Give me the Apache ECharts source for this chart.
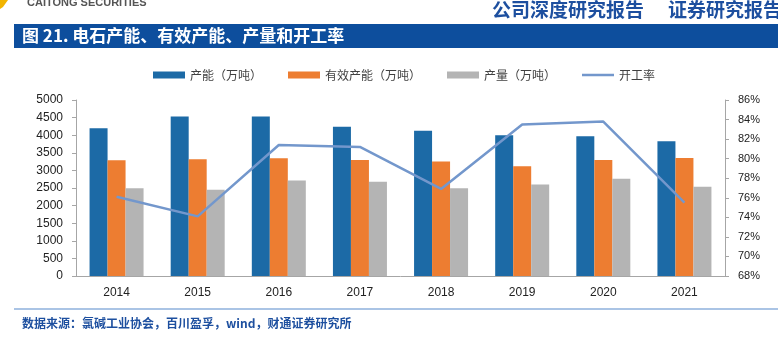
<!DOCTYPE html>
<html>
<head>
<meta charset="utf-8">
<script src="https://cdn.jsdelivr.net/npm/echarts@6/dist/echarts.min.js"></script>
<style>
  html, body { margin: 0; padding: 0; background: #fff; }
  #chart { width: 778px; height: 347px; }
</style>
</head>
<body>
<div id="chart"></div>
<script>
// Calcium carbide: capacity, effective capacity, output (10k t) and utilisation rate (%)
const years = ['2014', '2015', '2016', '2017', '2018', '2019', '2020', '2021'];
const capacity = [4200, 4530, 4530, 4240, 4125, 4000, 3970, 3830];
const effectiveCapacity = [3290, 3315, 3345, 3295, 3250, 3115, 3295, 3350];
const output = [2495, 2450, 2715, 2675, 2495, 2600, 2760, 2535];
const utilisation = [76.1, 74.1, 81.4, 81.2, 76.9, 83.5, 83.8, 75.5];

const seriesNames = ['产能（万吨）', '有效产能（万吨）', '产量（万吨）', '开工率'];
const colors = ['#1c6aa6', '#ed7d31', '#b4b4b4', '#7397cc'];

const chart = echarts.init(document.getElementById('chart'), null, { renderer: 'canvas' });

const cjk = '"Noto Sans CJK SC", "Noto Sans", sans-serif';
const latin = '"Liberation Sans", Arial, sans-serif';
const brandBlue = '#1d4f9f';

const barSeries = (name, data, color) => ({
  name: name,
  type: 'bar',
  data: data,
  barWidth: 18,
  barGap: '0%',
  itemStyle: { color: color },
  z: 2
});

chart.setOption({
  animation: false,
  color: colors,
  textStyle: { fontFamily: latin },
  legend: {
    left: 148,
    top: 64,
    itemWidth: 32,
    itemHeight: 7,
    itemGap: 26,
    textStyle: { fontFamily: cjk, fontSize: 12, color: '#404040' },
    data: [
      { name: seriesNames[0], icon: 'rect' },
      { name: seriesNames[1], icon: 'rect' },
      { name: seriesNames[2], icon: 'rect' },
      { name: seriesNames[3], icon: 'path://M0,0 H32 V2.5 H0 Z' }
    ]
  },
  grid: { left: 76, right: 53, top: 100, bottom: 71 },
  xAxis: {
    type: 'category',
    data: years,
    axisLine: { lineStyle: { color: '#a6a6a6', width: 1 } },
    axisTick: { show: false },
    axisLabel: { color: '#222', fontSize: 12, margin: 11, fontFamily: latin }
  },
  yAxis: [
    {
      type: 'value',
      min: 0,
      max: 5000,
      interval: 500,
      axisLine: { show: true, lineStyle: { color: '#a6a6a6' } },
      axisTick: { show: true, length: 4, lineStyle: { color: '#a6a6a6' } },
      splitLine: { show: false },
      axisLabel: { color: '#222', fontSize: 12, margin: 13, fontFamily: latin, formatter: v => String(v) }
    },
    {
      type: 'value',
      min: 68,
      max: 86,
      interval: 2,
      position: 'right',
      axisLine: { show: true, lineStyle: { color: '#a6a6a6' } },
      axisTick: { show: true, length: 4, lineStyle: { color: '#a6a6a6' } },
      splitLine: { show: false },
      axisLabel: { color: '#222', fontSize: 11, margin: 13, fontFamily: latin, formatter: '{value}%' }
    }
  ],
  series: [
    barSeries(seriesNames[0], capacity, colors[0]),
    barSeries(seriesNames[1], effectiveCapacity, colors[1]),
    barSeries(seriesNames[2], output, colors[2]),
    {
      name: seriesNames[3],
      type: 'line',
      yAxisIndex: 1,
      data: utilisation,
      symbol: 'none',
      lineStyle: { color: colors[3], width: 2.5 },
      itemStyle: { color: colors[3] },
      z: 5
    }
  ],
  graphic: [
    // brand mark and name
    { type: 'polygon', shape: { points: [[0, 0], [8, 0], [3, 7], [0, 9]] }, style: { fill: '#f2b400' } },
    { type: 'text', x: 27, y: 3, style: { text: 'CAITONG SECURITIES', font: 'bold 11px ' + latin, fill: '#555', verticalAlign: 'middle' } },
    { type: 'text', x: 492, y: 10, style: { text: '公司深度研究报告', font: 'bold 19px ' + cjk, fill: brandBlue, verticalAlign: 'middle' } },
    { type: 'text', x: 668, y: 10, style: { text: '证券研究报告', font: 'bold 19px ' + cjk, fill: brandBlue, verticalAlign: 'middle' } },
    // figure title bar
    { type: 'rect', shape: { x: 14, y: 24, width: 764, height: 24 }, style: { fill: '#0d4e9d' } },
    { type: 'text', x: 22, y: 36, style: { text: '图 21. 电石产能、有效产能、产量和开工率', font: 'bold 17px ' + cjk, fill: '#fff', verticalAlign: 'middle' } },
    // source note
    { type: 'line', shape: { x1: 14, y1: 309, x2: 778, y2: 309 }, style: { stroke: '#8eb1dd', lineWidth: 1.5 } },
    { type: 'text', x: 22, y: 323, style: { text: '数据来源：氯碱工业协会，百川盈孚，wind，财通证券研究所', font: 'bold 12px ' + cjk, fill: brandBlue, verticalAlign: 'middle' } }
  ]
});
</script>
</body>
</html>
